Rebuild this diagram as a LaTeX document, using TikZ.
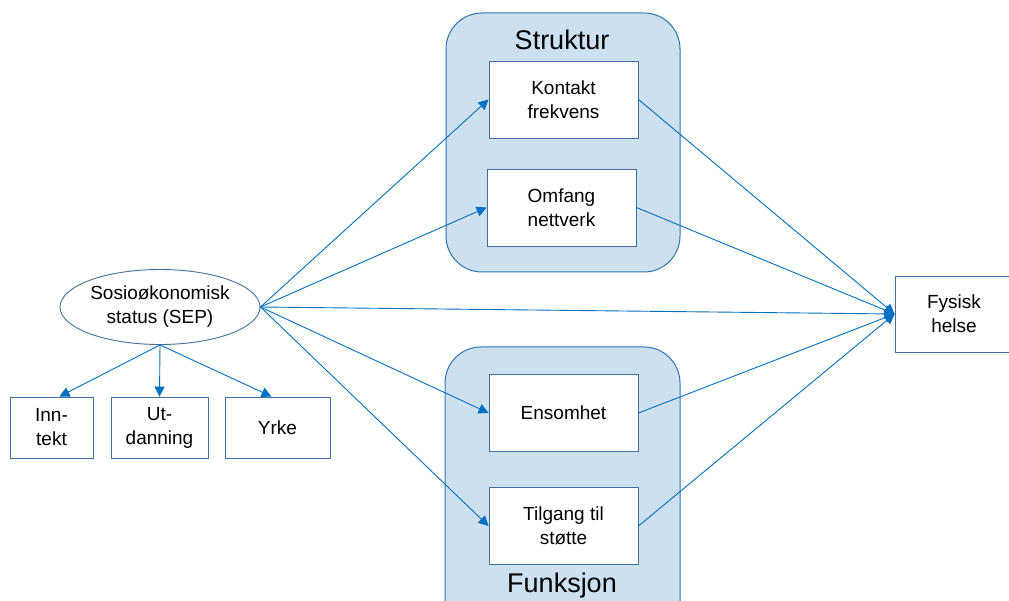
\documentclass[tikz,border=0pt]{standalone}
\usepackage{fontspec}
\setmainfont{Liberation Sans}
\usetikzlibrary{arrows.meta,shapes.geometric}

\definecolor{linkblue}{RGB}{0,112,192}
\definecolor{groupfill}{RGB}{204,224,240}
\definecolor{groupline}{RGB}{46,117,182}
\definecolor{boxline}{RGB}{65,113,156}

\tikzset{
  box/.style={draw=boxline, fill=white, line width=0.9pt, minimum width=149pt,
    minimum height=77pt, align=center, inner sep=0pt, font=\fontsize{19}{24}\selectfont},
  smallbox/.style={box, minimum height=61pt},
  group/.style={draw=groupline, fill=groupfill, line width=1pt, rounded corners=36pt},
  grouptitle/.style={font=\fontsize{27}{32}\selectfont, inner sep=0pt},
  link/.style={draw=linkblue, line width=0.9pt, -{Triangle[length=10pt,width=10pt]}},
}

\begin{document}
\begin{tikzpicture}[x=1pt, y=-1pt]
    \useasboundingbox (0,0) rectangle (1009,601);

    % Draw the two groups
    \draw[group] (446,13) rectangle (680,272);
    \draw[group] (445,347) rectangle (680,640);
    \node[grouptitle] (struktur) at (562,40) {Struktur};
    \node[grouptitle] (funksjon) at (562,586) {Funksjon};

    % Draw boxes inside the groups
    \node[box] (kontakt) at (563.5,99.5) {Kontakt\\frekvens};
    \node[box] (omfang) at (561.5,207.5) {Omfang\\nettverk};
    \node[box] (ensomhet) at (563.5,413) {Ensomhet};
    \node[box] (tilgang) at (563.5,526) {Tilgang til\\støtte};

    % Draw SEP and its parts
    \node[ellipse, draw=boxline, line width=0.9pt, minimum width=200pt, minimum height=75pt,
      inner sep=0pt, align=center, font=\fontsize{19}{24}\selectfont] (sep) at (160,307)
      {Sosioøkonomisk\\status (SEP)};
    \node[smallbox, minimum width=83pt] (inntekt) at (51.5,427.5) {Inn-\\tekt};
    \node[smallbox, minimum width=97pt] (utdanning) at (159.5,427.5) {Ut-\\danning};
    \node[smallbox, minimum width=105pt] (yrke) at (277.5,427.5) {Yrke};

    % Draw outcome (cut at the right edge)
    \node[box, minimum width=118pt, minimum height=76pt] (helse) at (954,314) {Fysisk\\helse};

    % Draw arrows from SEP
    \draw[link] (sep.east) -- (kontakt.west);
    \draw[link] (sep.east) -- (omfang.west);
    \draw[link] (sep.east) -- (helse.west);
    \draw[link] (sep.east) -- (ensomhet.west);
    \draw[link] (sep.east) -- (tilgang.west);
    \draw[link] (sep.south) -- ([xshift=8pt]inntekt.north);
    \draw[link] (sep.south) -- (utdanning.north);
    \draw[link] (sep.south) -- ([xshift=-6pt]yrke.north);

    % Draw arrows to outcome
    \draw[link] (kontakt.east) -- (helse.west);
    \draw[link] (omfang.east) -- (helse.west);
    \draw[link] (ensomhet.east) -- (helse.west);
    \draw[link] (tilgang.east) -- (helse.west);
\end{tikzpicture}
\end{document}
